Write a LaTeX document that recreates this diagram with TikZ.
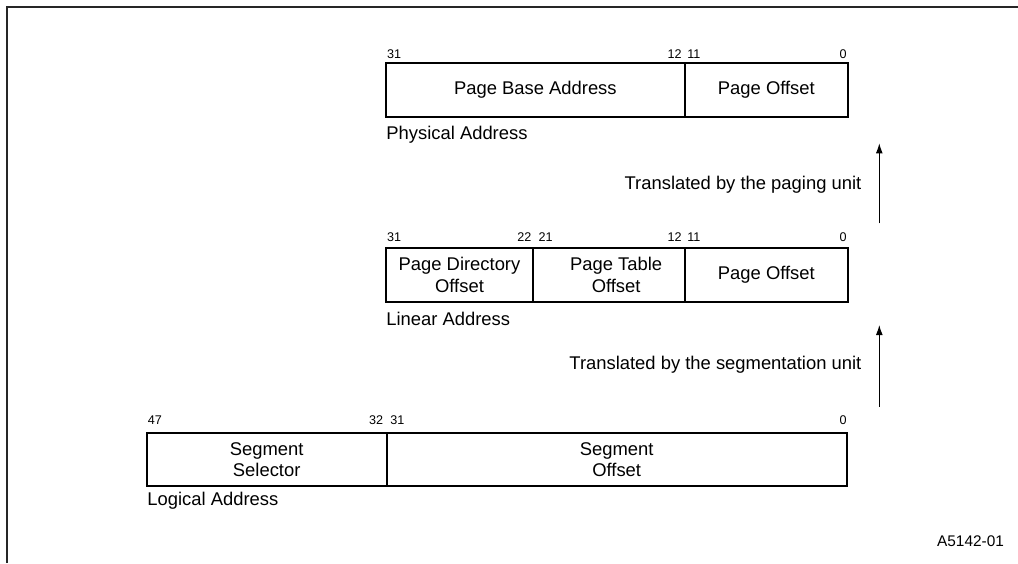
\documentclass[tikz,border=0pt]{standalone}
\usepackage{fontspec}
\setmainfont{Liberation Sans}
\usetikzlibrary{arrows.meta}
\begin{document}
\begin{tikzpicture}[x=0.5pt,y=-0.5pt,
  field/.style={draw, line width=0.85pt, inner sep=0pt, align=center,
    font=\fontsize{9.2pt}{10.6pt}\selectfont},
  bitno/.style={inner sep=0pt, font=\fontsize{6.3pt}{7.5pt}\selectfont},
  caption/.style={inner sep=0pt, anchor=base west, font=\fontsize{9.2pt}{11pt}\selectfont},
  note/.style={inner sep=0pt, anchor=base east, font=\fontsize{9.2pt}{11pt}\selectfont},
  upflow/.style={line width=0.5pt, -{Latex[length=5pt,width=3.4pt]}}]
\useasboundingbox (0,0) rectangle (1018,563);
% frame
\draw[line width=0.85pt, black!85] (7,563) -- (7,7) -- (1018,7);

% physical address
\node[field, minimum width=149.65pt, minimum height=27.3pt] (pba) at (535.35,90) {Page Base Address};
\node[field, minimum width=81.35pt, minimum height=27.3pt] (ppo) at (766.35,90) {Page Offset};
\node[bitno, anchor=base west] (p31) at (386.7,58) {31};
\node[bitno, anchor=base east] (p12) at (682,58) {12};
\node[bitno, anchor=base west] (p11) at (687,58) {11};
\node[bitno, anchor=base east] (p0) at (847,58) {0};
\node[caption] (phys) at (386,139) {Physical Address};

% linear address
\node[field, minimum width=73.8pt, minimum height=26.7pt] (pdo) at (459.5,275) {Page Directory\\Offset};
\node[field, minimum width=75.85pt, minimum height=26.7pt] (pto) at (609.15,275) {\hspace*{7pt}Page Table\\\hspace*{7pt}Offset};
\node[field, minimum width=81.35pt, minimum height=26.7pt] (lpo) at (766.35,275) {Page Offset};
\node[bitno, anchor=base west] (l31) at (386.7,241) {31};
\node[bitno, anchor=base east] (l22) at (531.7,241) {22};
\node[bitno, anchor=base west] (l21) at (538.3,241) {21};
\node[bitno, anchor=base east] (l12) at (682,241) {12};
\node[bitno, anchor=base west] (l11) at (687,241) {11};
\node[bitno, anchor=base east] (l0) at (847,241) {0};
\node[caption] (lin) at (386,325) {Linear Address};

% logical address
\node[field, minimum width=120pt, minimum height=26.65pt] (ssel) at (266.7,459.5) {Segment\\Selector};
\node[field, minimum width=230pt, minimum height=26.65pt] (soff) at (616.7,459.5) {Segment\\Offset};
\node[bitno, anchor=base west] (g47) at (147.5,424.5) {47};
\node[bitno, anchor=base east] (g32) at (383.5,424.5) {32};
\node[bitno, anchor=base west] (g31) at (390,424.5) {31};
\node[bitno, anchor=base east] (g0) at (847,424.5) {0};
\node[caption] (logi) at (147,505) {Logical Address};

% translation steps
\coordinate (pgfrom) at (879.3,223.3);
\coordinate (pgto) at (879.3,143.3);
\draw[upflow] (pgfrom) -- (pgto);
\node[note] (pgnote) at (861.7,189) {Translated by the paging unit};

\coordinate (sgfrom) at (879.3,406.7);
\coordinate (sgto) at (879.3,325);
\draw[upflow] (sgfrom) -- (sgto);
\node[note] (sgnote) at (861.7,369) {Translated by the segmentation unit};

% figure number
\node[inner sep=0pt, anchor=base east, font=\fontsize{7.7pt}{9pt}\selectfont] (fig) at (1004.3,546) {A5142-01};
\end{tikzpicture}
\end{document}
